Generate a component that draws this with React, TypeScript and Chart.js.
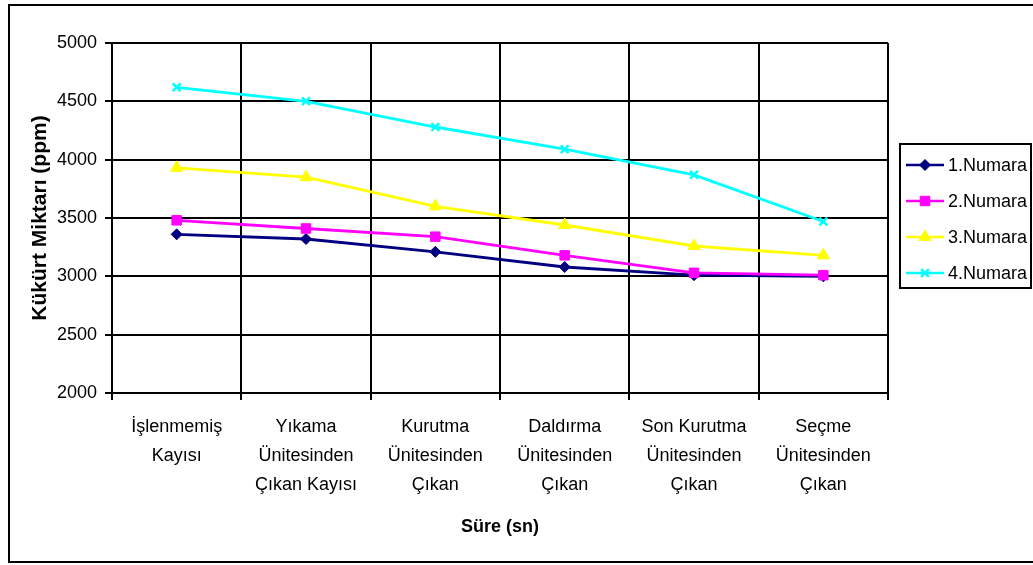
import React, { useEffect, useRef } from 'react';
import { Chart, registerables } from 'chart.js';
import { drawPoint } from 'chart.js/helpers';

Chart.register(...registerables);

const categories: string[][] = [
  ['İşlenmemiş', 'Kayısı'],
  ['Yıkama', 'Ünitesinden', 'Çıkan Kayısı'],
  ['Kurutma', 'Ünitesinden', 'Çıkan'],
  ['Daldırma', 'Ünitesinden', 'Çıkan'],
  ['Son Kurutma', 'Ünitesinden', 'Çıkan'],
  ['Seçme', 'Ünitesinden', 'Çıkan'],
];

const seriesNames = ['1.Numara', '2.Numara', '3.Numara', '4.Numara'];
const numara1 = [3360, 3320, 3210, 3080, 3010, 3000];
const numara2 = [3480, 3410, 3340, 3180, 3030, 3010];
const numara3 = [3930, 3850, 3600, 3440, 3260, 3180];
const numara4 = [4620, 4500, 4280, 4090, 3870, 3470];

const colors = ['#000080', '#FF00FF', '#FFFF00', '#00FFFF'];
const pointStyles = ['rectRot', 'rect', 'triangle', 'crossRot'];
const pointRadii = [5.5, 6.7, 7, 5.5];

const FONT = '"Liberation Sans", Arial, sans-serif';

export default function App() {
  const ref = useRef<HTMLCanvasElement | null>(null);

  useEffect(() => {
    if (!ref.current) return;
    const values = [numara1, numara2, numara3, numara4];

    const framePlugin = {
      id: 'frame',
      beforeDraw(chart: any) {
        const ctx = chart.ctx;
        ctx.save();
        ctx.fillStyle = '#fff';
        ctx.fillRect(0, 0, chart.width, chart.height);
        ctx.lineWidth = 2;
        ctx.strokeStyle = '#000';
        ctx.strokeRect(9, 5, 1040, 557);
        ctx.restore();
      },
    };

    const legendPlugin = {
      id: 'boxLegend',
      afterDraw(chart: any) {
        const ctx = chart.ctx;
        ctx.save();
        ctx.fillStyle = '#fff';
        ctx.fillRect(900, 144, 131, 144);
        ctx.lineWidth = 2;
        ctx.strokeStyle = '#000';
        ctx.strokeRect(900, 144, 131, 144);
        chart.data.datasets.forEach((ds: any, i: number) => {
          const y = 165 + i * 36;
          ctx.strokeStyle = ds.borderColor;
          ctx.lineWidth = 2.5;
          ctx.beginPath();
          ctx.moveTo(906, y);
          ctx.lineTo(944, y);
          ctx.stroke();
          ctx.fillStyle = ds.pointBackgroundColor;
          ctx.strokeStyle = ds.pointBorderColor;
          ctx.lineWidth = ds.pointBorderWidth;
          drawPoint(ctx, { pointStyle: ds.pointStyle, radius: ds.pointRadius, borderWidth: ds.pointBorderWidth, rotation: 0 } as any, 925, y);
          ctx.fillStyle = '#000';
          ctx.font = `18px ${FONT}`;
          ctx.textBaseline = 'middle';
          ctx.textAlign = 'left';
          ctx.fillText(ds.label, 948, y + 1);
        });
        ctx.restore();
      },
    };

    const chart = new Chart(ref.current, {
      type: 'line',
      data: {
        labels: categories as any,
        datasets: values.map((v, i) => ({
          label: seriesNames[i],
          data: v,
          borderColor: colors[i],
          backgroundColor: colors[i],
          pointBackgroundColor: colors[i],
          pointBorderColor: colors[i],
          pointBorderWidth: i === 3 ? 2.5 : 1,
          pointStyle: pointStyles[i] as any,
          pointRadius: pointRadii[i],
          borderWidth: 2.8,
          tension: 0,
          fill: false,
          order: 4 - i,
        })),
      },
      options: {
        responsive: false,
        animation: false,
        layout: { padding: { top: 43, right: 145, left: 0, bottom: 0 } },
        plugins: {
          legend: { display: false },
          tooltip: { enabled: false },
        },
        scales: {
          x: {
            offset: true,
            afterFit: (scale: any) => { scale.height = 172; },
            grid: { offset: true, color: '#000', lineWidth: 2, tickLength: 7, drawTicks: true },
            border: { color: '#000', width: 2 },
            ticks: {
              color: '#000',
              font: { family: FONT, size: 18, lineHeight: 1.61 },
              padding: 13,
              maxRotation: 0,
              autoSkip: false,
            },
            title: {
              display: true,
              text: 'Süre (sn)',
              color: '#000',
              font: { family: FONT, size: 18, weight: 'bold', lineHeight: 1.2 },
              padding: { top: 0, bottom: 27 },
            },
          },
          y: {
            min: 2000,
            max: 5000,
            afterFit: (scale: any) => { scale.width = 112; },
            grid: { color: '#000', lineWidth: 2, tickLength: 7 },
            border: { color: '#000', width: 2 },
            ticks: {
              stepSize: 500,
              color: '#000',
              font: { family: FONT, size: 18 },
              padding: 8,
              callback: (v: any) => String(v),
            },
            title: {
              display: true,
              text: 'Kükürt Miktarı (ppm)',
              color: '#000',
              font: { family: FONT, size: 21, weight: 'bold', lineHeight: 1.2 },
              padding: { top: 28, bottom: 0 },
            },
          },
        },
      },
      plugins: [framePlugin, legendPlugin],
    });
    return () => chart.destroy();
  }, []);

  return (
    <div style={{ position: 'absolute', left: 0, top: 0, width: 1033, height: 565 }}>
      <canvas ref={ref} width={1033} height={565} style={{ width: 1033, height: 565, display: 'block' }} />
    </div>
  );
}
